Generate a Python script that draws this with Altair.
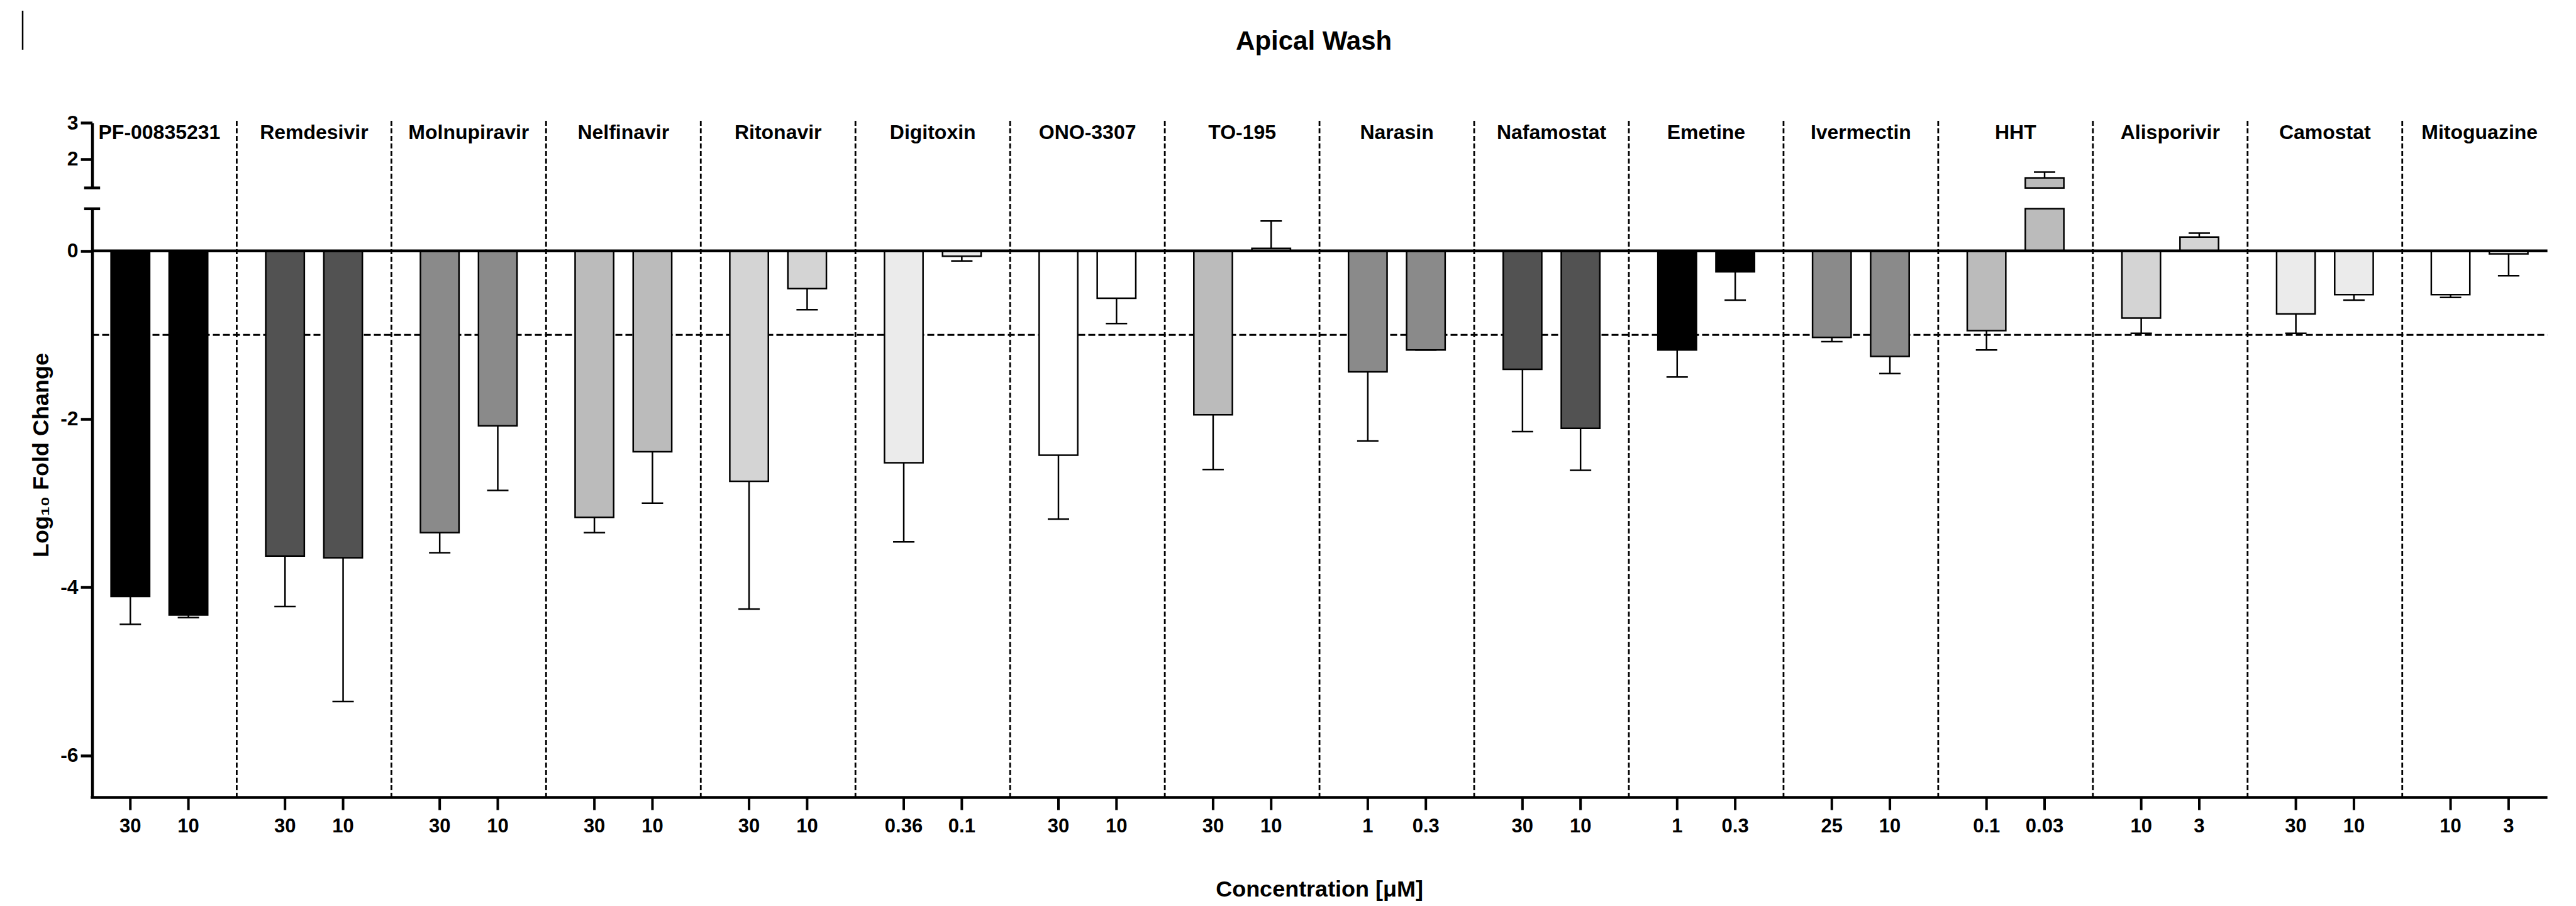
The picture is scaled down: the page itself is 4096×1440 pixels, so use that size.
import altair as alt
import pandas as pd

# ---------------- data ----------------
drugs = ["PF-00835231", "Remdesivir", "Molnupiravir", "Nelfinavir", "Ritonavir",
         "Digitoxin", "ONO-3307", "TO-195", "Narasin", "Nafamostat", "Emetine",
         "Ivermectin", "HHT", "Alisporivir", "Camostat", "Mitoguazine"]
conc_hi = ["30", "30", "30", "30", "30", "0.36", "30", "30", "1", "30", "1", "25", "0.1", "10", "30", "10"]
conc_lo = ["10", "10", "10", "10", "10", "0.1", "10", "10", "0.3", "10", "0.3", "10", "0.03", "3", "10", "3"]
mean_hi = [-4.11, -3.63, -3.35, -3.17, -2.74, -2.52, -2.43, -1.95, -1.44, -1.41, -1.18, -1.03, -0.95, -0.80, -0.75, -0.52]
err_hi = [0.33, 0.60, 0.24, 0.18, 1.52, 0.94, 0.76, 0.65, 0.82, 0.74, 0.32, 0.05, 0.23, 0.18, 0.23, 0.035]
mean_lo = [-4.33, -3.65, -2.08, -2.39, -0.45, -0.064, -0.564, 0.03, -1.18, -2.11, -0.25, -1.255, 1.476, 0.164, -0.52, -0.036]
err_lo = [0.03, 1.71, 0.77, 0.61, 0.25, 0.056, 0.30, 0.325, 0.0, 0.50, 0.337, 0.205, 0.164, 0.046, 0.067, 0.26]
fills = ["#000000", "#525252", "#8a8a8a", "#bbbbbb", "#d4d4d4", "#ebebeb", "#ffffff", "#bbbbbb",
         "#8a8a8a", "#525252", "#000000", "#8a8a8a", "#bbbbbb", "#d4d4d4", "#ebebeb", "#ffffff"]
y_ticks_low = [0, -2, -4, -6]
y_ticks_up = [2, 3]
threshold = [-1.0]
baseline = [0.0]
floor_level = [-6.5]
low_break = [0.5]
up_break = [1.2]
title_text = ["Apical Wash"]
x_title_text = ["Concentration [μM]"]

rows = []
for i, d in enumerate(drugs):
    for k, (c, m, e) in enumerate([(conc_hi[i], mean_hi[i], err_hi[i]),
                                   (conc_lo[i], mean_lo[i], err_lo[i])]):
        end = m - e if m < 0 else m + e
        rows.append(dict(drug=d, idx=k, conc=c, mean=m, err=e, err_end=end))
df = pd.DataFrame(rows)

# ---------------- layout / style ----------------
FONT = "Liberation Sans"
W, H = 3904.1, 1169.5
X_RANGE = [-16.05, 3919.2]
LOW_RANGE = [1169.5, 233.8]
UP_RANGE = [200.7, 97.4]
LW = 4.5


def x_scale():
    return alt.Scale(domain=drugs, range=X_RANGE, paddingInner=0, paddingOuter=0)


def xo_scale():
    return alt.Scale(domain=[0, 1], paddingInner=0.336, paddingOuter=0.5)


def y_low():
    return alt.Scale(domain=[-6.5, 0.5], range=LOW_RANGE, clamp=True, nice=False, zero=False)


def y_up():
    return alt.Scale(domain=[1.2, 3], range=UP_RANGE, clamp=True, nice=False, zero=False)


color = alt.Color("drug:N", scale=alt.Scale(domain=drugs, range=fills), legend=None)


def X(axis=None, **kw):
    return alt.X("drug:N", scale=x_scale(), sort=drugs, axis=axis, **kw)


def XO():
    return alt.XOffset("idx:N", scale=xo_scale())


axis_common = dict(orient="left", grid=False, domainColor="black", domainWidth=LW,
                   tickColor="black", tickWidth=LW, tickSize=18.4,
                   labelFont=FONT, labelFontSize=32, labelFontWeight="bold",
                   labelColor="black", labelPadding=4, labelExpr="'' + datum.value")

base = alt.Chart(df)

dividers = alt.Chart(pd.DataFrame({"drug": drugs[1:]})).mark_rule(
    color="black", strokeWidth=2.8, strokeDash=[8, 4]).encode(
    x=X(bandPosition=0), y=alt.value(94), y2=alt.value(H))

minus1 = alt.Chart(pd.DataFrame({"v": threshold})).mark_rule(
    color="black", strokeWidth=3, strokeDash=[11, 5]).encode(
    y=alt.Y("v:Q", scale=y_low(), axis=None), x=alt.value(0), x2=alt.value(W))

bars_low = base.mark_bar(stroke="black", strokeWidth=2.5).encode(
    x=X(),
    xOffset=XO(),
    y=alt.Y("mean:Q", scale=y_low(), stack=None, title="Log₁₀ Fold Change",
            axis=alt.Axis(values=y_ticks_low, titleFont=FONT, titleFontSize=36,
                          titleFontWeight="bold", titleColor="black",
                          titleX=-81, titleY=625, titleAlign="center",
                          titleBaseline="middle", **axis_common)),
    y2=alt.datum(0),
    color=color,
)

err_low_line = base.transform_filter("datum.err_end <= 0.5").mark_rule(
    color="black", strokeWidth=2.5).encode(
    x=X(), xOffset=XO(), y=alt.Y("mean:Q", scale=y_low(), axis=None), y2="err_end:Q")
err_low_cap = base.transform_filter("datum.err_end <= 0.5").mark_tick(
    color="black", size=34, thickness=2.5, opacity=1).encode(
    x=X(), xOffset=XO(), y=alt.Y("err_end:Q", scale=y_low(), axis=None))

zero_line = alt.Chart(pd.DataFrame({"v": baseline})).mark_rule(
    color="black", strokeWidth=LW).encode(
    y=alt.Y("v:Q", scale=y_low(), axis=None), x=alt.value(0), x2=alt.value(W))
x_axis_line = alt.Chart(pd.DataFrame({"v": floor_level})).mark_rule(
    color="black", strokeWidth=LW).encode(
    y=alt.Y("v:Q", scale=y_low(), axis=None), x=alt.value(-LW / 2), x2=alt.value(W))
low_cap = alt.Chart(pd.DataFrame({"v": low_break})).mark_rule(
    color="black", strokeWidth=LW).encode(
    y=alt.Y("v:Q", scale=y_low(), axis=None), x=alt.value(-12.7), x2=alt.value(12.7))

bars_up = base.transform_filter("datum.mean > 1.2").mark_bar(
    stroke="black", strokeWidth=2.5).encode(
    x=X(), xOffset=XO(),
    y=alt.Y("mean:Q", scale=y_up(), stack=None, title=None,
            axis=alt.Axis(values=y_ticks_up, **axis_common)),
    y2=alt.datum(1.2),
    color=color,
)
err_up_line = base.transform_filter("datum.err_end > 1.2").mark_rule(
    color="black", strokeWidth=2.5).encode(
    x=X(), xOffset=XO(), y=alt.Y("mean:Q", scale=y_up(), axis=None), y2="err_end:Q")
err_up_cap = base.transform_filter("datum.err_end > 1.2").mark_tick(
    color="black", size=34, thickness=2.5, opacity=1).encode(
    x=X(), xOffset=XO(), y=alt.Y("err_end:Q", scale=y_up(), axis=None))
up_cap = alt.Chart(pd.DataFrame({"v": up_break})).mark_rule(
    color="black", strokeWidth=LW).encode(
    y=alt.Y("v:Q", scale=y_up(), axis=None), x=alt.value(-12.7), x2=alt.value(12.7))

drug_labels = alt.Chart(pd.DataFrame({"drug": drugs})).mark_text(
    font=FONT, fontSize=32, fontWeight="bold", color="black",
    align="center", baseline="alphabetic").encode(
    x=X(), y=alt.value(122.5), text="drug:N")

conc_ticks = base.mark_rule(color="black", strokeWidth=4).encode(
    x=X(), xOffset=XO(), y=alt.value(H), y2=alt.value(H + 20))
conc_labels = base.mark_text(
    font=FONT, fontSize=31, fontWeight="bold", color="black",
    align="center", baseline="alphabetic").encode(
    x=X(), xOffset=XO(), y=alt.value(1225), text="conc:N")

x_title = alt.Chart(pd.DataFrame({"t": x_title_text})).mark_text(
    font=FONT, fontSize=36, fontWeight="bold", color="black",
    align="center", baseline="middle").encode(
    x=alt.value(1951.6), y=alt.value(1316), text="t:N")

title_mark = alt.Chart(pd.DataFrame({"t": title_text})).mark_text(
    font=FONT, fontSize=42, fontWeight="bold", color="black",
    align="center", baseline="alphabetic").encode(
    x=alt.value(1942.6), y=alt.value(-18.6), text="t:N")

corner_mark = alt.Chart(pd.DataFrame({"t": title_text})).mark_rule(
    color="black", strokeWidth=2.5).encode(
    x=alt.value(-110.5), y=alt.value(-81), y2=alt.value(-19))

chart = alt.layer(
    dividers, minus1, bars_low, err_low_line, err_low_cap, zero_line, x_axis_line, low_cap,
    bars_up, err_up_line, err_up_cap, up_cap,
    drug_labels, conc_ticks, conc_labels, x_title, title_mark, corner_mark
).resolve_scale(
    y="independent"
).properties(
    width=W, height=H,
    autosize=alt.AutoSizeParams(type="none"),
    padding={"left": 138.5, "top": 90, "right": 25, "bottom": 164.5},
    background="white",
).configure_view(stroke=None)

chart.save("out.html", embed_options={"renderer": "svg", "actions": False})
